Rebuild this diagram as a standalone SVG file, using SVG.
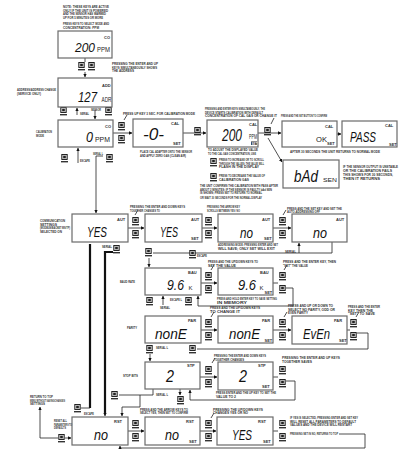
<svg xmlns="http://www.w3.org/2000/svg" xmlns:xlink="http://www.w3.org/1999/xlink" width="419" height="461" viewBox="0 0 419 461">
<style>
.lcd{fill:#fff;stroke:#6a6a6a;stroke-width:1.2}
.big{font-family:"Liberation Sans","DejaVu Sans",sans-serif;font-style:italic;fill:#111}
.u{font-style:normal;fill:#222}
.unit{font-family:"Liberation Sans",sans-serif;font-size:6.5px;fill:#222}
.tag{font-family:"Liberation Sans",sans-serif;font-size:4px;font-weight:bold;fill:#333}
.n{font-family:"Liberation Sans",sans-serif;font-size:3px;font-weight:bold;fill:#333}
.c{fill:none;stroke:#222;stroke-width:0.8}
.t{fill:none;stroke:#111;stroke-width:2.2}
</style>
<defs>
<marker id="ah" viewBox="0 0 6 6" refX="5.5" refY="3" markerWidth="3.5" markerHeight="3.5" markerUnits="userSpaceOnUse" orient="auto"><path d="M0,0L6,3L0,6z" fill="#111"/></marker>
<symbol id="key" viewBox="0 0 7 9" width="7" height="9">
<rect x="0.8" y="0.5" width="5.4" height="5" fill="#d4d4d4" stroke="#111" stroke-width="0.9"/>
<rect x="2.2" y="1.8" width="2.6" height="2.4" fill="#222"/>
<rect x="0" y="7" width="7" height="1.4" fill="#333"/>
</symbol>
</defs>
<rect width="419" height="461" fill="#fff"/>

<g id="connectors">
<path class="c" d="M85,58V62"/>
<path class="c" d="M85,72V77" marker-end="url(#ah)"/>
<path class="c" d="M77,115V108" marker-end="url(#ah)"/>
<path class="c" d="M95,110V119" marker-end="url(#ah)"/>
<path class="c" d="M113,133H132" marker-end="url(#ah)"/>
<path class="c" d="M124,120L127,115"/>
<path class="c" d="M78,163V148" marker-end="url(#ah)"/>
<path class="c" d="M103,156H96V213" marker-end="url(#ah)"/>
<path class="c" d="M183,133H206" marker-end="url(#ah)"/>
<path class="c" d="M258,133H281" marker-end="url(#ah)"/>
<path class="c" d="M268,138L282,162" marker-end="url(#ah)"/>
<path class="c" d="M271,124L274,118"/>
<path class="c" d="M337,134H341" marker-end="url(#ah)"/>
<path class="c" d="M128,228H144" marker-end="url(#ah)"/>
<path class="c" d="M135,215L138,210"/>
<path class="c" d="M202,228H217" marker-end="url(#ah)"/>
<path class="c" d="M273,228H291" marker-end="url(#ah)"/>
<path class="c" d="M283,215L286,210"/>
<path class="t" d="M90,408V244"/>
<path class="c" d="M81,408H90"/>
<path class="t" d="M113,252H105V413"/>
<path class="c" d="M105,412V416" marker-end="url(#ah)"/>
<path class="c" d="M332,242V253H153"/>
<path class="c" d="M149,258V267" marker-end="url(#ah)"/>
<path class="c" d="M299,253V243" marker-end="url(#ah)"/>
<path class="c" d="M201,283H217" marker-end="url(#ah)"/>
<path class="c" d="M211,270L214,265"/>
<path class="c" d="M273,283H278"/>
<path class="c" d="M286,288H293V306H198V296" marker-end="url(#ah)"/>
<path class="c" d="M284,270L287,265"/>
<path class="c" d="M163,305V296" marker-end="url(#ah)"/>
<path class="c" d="M201,330H217" marker-end="url(#ah)"/>
<path class="c" d="M211,317L214,312"/>
<path class="c" d="M273,330H291" marker-end="url(#ah)"/>
<path class="c" d="M284,317L287,312"/>
<path class="c" d="M347,330H350"/>
<path class="c" d="M357,333H368V349H197"/>
<path class="c" d="M356,317L359,312"/>
<path class="c" d="M150,354V361" marker-end="url(#ah)"/>
<path class="c" d="M200,377H217" marker-end="url(#ah)"/>
<path class="c" d="M212,363L215,358"/>
<path class="c" d="M273,377H278"/>
<path class="c" d="M286,381H295V400H190V390" marker-end="url(#ah)"/>
<path class="c" d="M180,389V395" marker-end="url(#ah)"/>
<path class="c" d="M153,389V395H140V407H122V416" marker-end="url(#ah)"/>
<path class="c" d="M119,395H140"/>
<path class="c" d="M65,438H71" marker-end="url(#ah)"/>
<path class="c" d="M58,438H40V407" marker-end="url(#ah)"/>
<path class="c" d="M128,431H144" marker-end="url(#ah)"/>
<path class="c" d="M200,431H216" marker-end="url(#ah)"/>
<path class="c" d="M211,418L214,413"/>
<path class="c" d="M273,431H278"/>
<path class="c" d="M339,434H365V448H120V446" marker-end="url(#ah)"/>
<path class="c" d="M219,124l2,2M217,133h2M219,142l2,-2M246,124l-2,2"/>
</g>

<g id="keys">
<use href="#key" x="78" y="62"/><use href="#key" x="88" y="62"/>
<use href="#key" x="60" y="107"/><use href="#key" x="105" y="107"/>
<use href="#key" x="118" y="122"/><use href="#key" x="118" y="135"/>
<use href="#key" x="61" y="154"/><use href="#key" x="106" y="154"/>
<use href="#key" x="194" y="127"/>
<use href="#key" x="264" y="127"/>
<use href="#key" x="210" y="158"/><use href="#key" x="210" y="173"/>
<use href="#key" x="132" y="217"/><use href="#key" x="132" y="230"/>
<use href="#key" x="205" y="217"/><use href="#key" x="205" y="230"/>
<use href="#key" x="279" y="217"/><use href="#key" x="279" y="230"/>
<use href="#key" x="113" y="245"/>
<use href="#key" x="74" y="404"/>
<use href="#key" x="145" y="248"/><use href="#key" x="189" y="250"/>
<use href="#key" x="205" y="272"/><use href="#key" x="205" y="285"/>
<use href="#key" x="279" y="272"/><use href="#key" x="279" y="285"/>
<use href="#key" x="146" y="297"/><use href="#key" x="185" y="297"/>
<use href="#key" x="205" y="319"/><use href="#key" x="205" y="332"/>
<use href="#key" x="279" y="319"/><use href="#key" x="279" y="332"/>
<use href="#key" x="350" y="319"/><use href="#key" x="350" y="332"/>
<use href="#key" x="146" y="345"/><use href="#key" x="189" y="345"/>
<use href="#key" x="205" y="366"/><use href="#key" x="205" y="379"/>
<use href="#key" x="279" y="366"/><use href="#key" x="279" y="379"/>
<use href="#key" x="177" y="396"/><use href="#key" x="111" y="391"/>
<use href="#key" x="58" y="434"/>
<use href="#key" x="132" y="420"/><use href="#key" x="132" y="433"/>
<use href="#key" x="205" y="420"/><use href="#key" x="205" y="433"/>
<use href="#key" x="279" y="420"/><use href="#key" x="279" y="433"/>
</g>

<g id="n-co200"><rect class="lcd" x="58" y="31" width="54" height="27"/><text class="big" x="75" y="52" font-size="13"><tspan textLength="20" lengthAdjust="spacingAndGlyphs">200</tspan><tspan class="u" x="97" font-size="6.5" textLength="13" lengthAdjust="spacingAndGlyphs">PPM</tspan></text><text class="tag" x="104" y="39">CO</text></g>
<g id="n-adr"><rect class="lcd" x="58" y="78" width="54" height="29"/><text class="big" x="78" y="102" font-size="14"><tspan textLength="19" lengthAdjust="spacingAndGlyphs">127</tspan><tspan class="u" x="101.5" font-size="6.5" textLength="10" lengthAdjust="spacingAndGlyphs">ADR</tspan></text><text class="tag" x="102" y="86.5">ADD</text></g>
<g id="n-co0"><rect class="lcd" x="58" y="120" width="55" height="27"/><text class="big" x="86" y="142" font-size="14"><tspan textLength="7" lengthAdjust="spacingAndGlyphs">0</tspan><tspan class="u" x="95" font-size="6.5" textLength="15" lengthAdjust="spacingAndGlyphs">PPM</tspan></text><text class="tag" x="105" y="128">CO</text></g>
<g id="n-cal0"><rect class="lcd" x="133" y="119" width="50" height="28"/><text class="big" x="143" y="140" font-size="16" textLength="21" lengthAdjust="spacingAndGlyphs">-0-</text><text class="tag" x="171" y="124.5">CAL</text><text class="tag" x="173" y="145">SET</text></g>
<g id="n-cal200"><rect class="lcd" x="207" y="120" width="51" height="27"/><text class="big" x="222" y="141" font-size="16" textLength="20" lengthAdjust="spacingAndGlyphs">200</text><text class="unit" x="249" y="139" font-size="5" textLength="8" lengthAdjust="spacingAndGlyphs">PPM</text><text class="tag" x="249" y="125.5">CAL</text><rect x="251" y="141.5" width="6" height="3.5" fill="#222"/><text x="251.5" y="144.5" font-family="Liberation Sans,sans-serif" font-size="3" font-weight="bold" fill="#fff">SET</text></g>
<g id="n-ok"><rect class="lcd" x="282" y="121" width="55" height="26"/><text x="316" y="142" font-family="Liberation Sans,sans-serif" font-size="7" fill="#222" textLength="11" lengthAdjust="spacingAndGlyphs">OK</text><text class="tag" x="325" y="128">CAL</text><text class="tag" x="327" y="145">SET</text></g>
<g id="n-pass"><rect class="lcd" x="342" y="121" width="55" height="26"/><text class="big" x="350" y="142" font-size="14.5" textLength="26" lengthAdjust="spacingAndGlyphs">PASS</text><text class="tag" x="385" y="126.5">CAL</text><text class="tag" x="389" y="145.5">SET</text></g>
<g id="n-bad"><rect class="lcd" x="283" y="160" width="56" height="28"/><text class="big" x="294" y="182" font-size="16"><tspan textLength="24" lengthAdjust="spacingAndGlyphs">bAd</tspan><tspan class="u" x="323" font-size="6" textLength="14" lengthAdjust="spacingAndGlyphs">SEN</tspan></text></g>
<g id="n-aut1"><rect class="lcd" x="72" y="214" width="56" height="28"/><text class="big" x="87" y="237" font-size="15" textLength="20" lengthAdjust="spacingAndGlyphs">YES</text><text class="tag" x="117" y="221">AUT</text></g>
<g id="n-aut2"><rect class="lcd" x="145" y="214" width="57" height="28"/><text class="big" x="160" y="237" font-size="15" textLength="18" lengthAdjust="spacingAndGlyphs">YES</text><text class="tag" x="191" y="221">AUT</text><text class="tag" x="191" y="240">SET</text></g>
<g id="n-aut3"><rect class="lcd" x="218" y="214" width="55" height="28"/><text class="big" x="240" y="238" font-size="14" textLength="13" lengthAdjust="spacingAndGlyphs">no</text><text class="tag" x="262" y="221">AUT</text><text class="tag" x="264" y="240">SET</text></g>
<g id="n-aut4"><rect class="lcd" x="292" y="214" width="55" height="28"/><text class="big" x="313" y="238" font-size="14" textLength="14" lengthAdjust="spacingAndGlyphs">no</text><text class="tag" x="336" y="221">AUT</text></g>
<g id="n-bau1"><rect class="lcd" x="145" y="268" width="56" height="27"/><text class="big" x="167" y="290" font-size="15"><tspan textLength="17" lengthAdjust="spacingAndGlyphs">9.6</tspan><tspan class="u" x="188.5" font-size="6">K</tspan></text><text class="tag" x="188" y="273.5">BAU</text></g>
<g id="n-bau2"><rect class="lcd" x="218" y="268" width="55" height="27"/><text class="big" x="238" y="290" font-size="15"><tspan textLength="18" lengthAdjust="spacingAndGlyphs">9.6</tspan><tspan class="u" x="259.5" font-size="6">K</tspan></text><text class="tag" x="260" y="273.5">BAU</text><text class="tag" x="264.5" y="293.5">SET</text></g>
<g id="n-par1"><rect class="lcd" x="145" y="316" width="56" height="27"/><text class="big" x="155" y="339" font-size="15" textLength="32" lengthAdjust="spacingAndGlyphs">nonE</text><text class="tag" x="188" y="322">PAR</text></g>
<g id="n-par2"><rect class="lcd" x="218" y="316" width="55" height="27"/><text class="big" x="229" y="339" font-size="15" textLength="31" lengthAdjust="spacingAndGlyphs">nonE</text><text class="tag" x="262" y="322">PAR</text><text class="tag" x="264.5" y="341.5">SET</text></g>
<g id="n-par3"><rect class="lcd" x="292" y="316" width="55" height="28"/><text class="big" x="303" y="339" font-size="15" textLength="27" lengthAdjust="spacingAndGlyphs">EvEn</text><text class="tag" x="334" y="322">PAR</text><text class="tag" x="339" y="342">SET</text></g>
<g id="n-stp1"><rect class="lcd" x="145" y="362" width="55" height="27"/><text class="big" x="166" y="382" font-size="16" textLength="8" lengthAdjust="spacingAndGlyphs">2</text><text class="tag" x="187" y="366.5">STP</text></g>
<g id="n-stp2"><rect class="lcd" x="218" y="362" width="55" height="28"/><text class="big" x="239" y="382" font-size="16" textLength="8" lengthAdjust="spacingAndGlyphs">2</text><text class="tag" x="258" y="366.5">STP</text><text class="tag" x="262" y="387.5">SET</text></g>
<g id="n-rst1"><rect class="lcd" x="72" y="417" width="56" height="28"/><text class="big" x="94" y="440" font-size="14" textLength="14" lengthAdjust="spacingAndGlyphs">no</text><text class="tag" x="114" y="423">RST</text></g>
<g id="n-rst2"><rect class="lcd" x="145" y="417" width="55" height="28"/><text class="big" x="165" y="440" font-size="14" textLength="14" lengthAdjust="spacingAndGlyphs">no</text><text class="tag" x="186" y="423">RST</text><text class="tag" x="189" y="442.5">SET</text></g>
<g id="n-rst3"><rect class="lcd" x="217" y="417" width="56" height="28"/><text class="big" x="232" y="440" font-size="15" textLength="20" lengthAdjust="spacingAndGlyphs">YES</text><text class="tag" x="258" y="423">RST</text><text class="tag" x="263" y="442.5">SET</text></g>

<g id="notes">
<text class="n" x="63" y="8" textLength="46" lengthAdjust="spacingAndGlyphs">NOTE: THESE KEYS ARE ACTIVE</text>
<text class="n" x="63" y="11.5" textLength="45" lengthAdjust="spacingAndGlyphs">ONLY IF THE UNIT IS POWERED</text>
<text class="n" x="63" y="15" textLength="43" lengthAdjust="spacingAndGlyphs">AND THE SENSOR HAS WARMED</text>
<text class="n" x="63" y="18.5" textLength="40" lengthAdjust="spacingAndGlyphs">UP FOR 5 MINUTES OR MORE</text>
<text class="n" x="63" y="25" textLength="46" lengthAdjust="spacingAndGlyphs">PRESS KEYS TO SELECT MODE AND</text>
<text class="n" x="63" y="28.5" textLength="36" lengthAdjust="spacingAndGlyphs">CONCENTRATION: PPM</text>
<text class="n" x="112" y="65" textLength="46" lengthAdjust="spacingAndGlyphs">PRESSING THE ENTER AND UP</text>
<text class="n" x="112" y="68.5" textLength="45" lengthAdjust="spacingAndGlyphs">KEYS SIMULTANEOUSLY SHOWS</text>
<text class="n" x="112" y="72" textLength="22" lengthAdjust="spacingAndGlyphs">THE ADDRESS</text>
<text class="n" x="17" y="91" textLength="39" lengthAdjust="spacingAndGlyphs">ADDRESS/ADDRESS CHANGE</text>
<text class="n" x="17" y="95" textLength="24" lengthAdjust="spacingAndGlyphs">(SERVICE ONLY)</text>
<text class="n" x="91" y="111" textLength="10" lengthAdjust="spacingAndGlyphs">SENSOR</text>
<text class="n" x="80" y="115" textLength="9" lengthAdjust="spacingAndGlyphs">SERIAL</text>
<text class="n" x="123" y="114.5" textLength="72" lengthAdjust="spacingAndGlyphs">PRESS UP KEY 3 SEC. FOR CALIBRATION MODE</text>
<text class="n" x="205" y="110" textLength="60" lengthAdjust="spacingAndGlyphs">PRESSING AND ENTER KEYS SIMULTANEOUSLY, THE</text>
<text class="n" x="205" y="113.5" textLength="58" lengthAdjust="spacingAndGlyphs">DEVICE STARTS CALIBRATION WITH DEFAULT</text>
<text class="n" x="205" y="117" textLength="72" lengthAdjust="spacingAndGlyphs">CONCENTRATION OF CAL GAS OR CHANGE IT</text>
<text class="n" x="281" y="117" textLength="46" lengthAdjust="spacingAndGlyphs">PRESS AND THE SET BUTTON TO CONFIRM</text>
<text class="n" x="36" y="133" textLength="16" lengthAdjust="spacingAndGlyphs">CALIBRATION</text>
<text class="n" x="36" y="136.5" textLength="8" lengthAdjust="spacingAndGlyphs">MODE</text>
<text class="n" x="80" y="162" textLength="10" lengthAdjust="spacingAndGlyphs">ESCAPE</text>
<text class="n" x="93" y="155" textLength="10" lengthAdjust="spacingAndGlyphs">SERIAL L</text>
<text class="n" x="140" y="153" textLength="52" lengthAdjust="spacingAndGlyphs">PLACE CAL ADAPTER ONTO THE SENSOR</text>
<text class="n" x="140" y="156.5" textLength="46" lengthAdjust="spacingAndGlyphs">AND APPLY ZERO GAS (CLEAN AIR)</text>
<text class="n" x="208" y="151" textLength="50" lengthAdjust="spacingAndGlyphs">TO ADJUST THE DISPLAYED VALUE</text>
<text class="n" x="208" y="154.5" textLength="48" lengthAdjust="spacingAndGlyphs">TO THE CAL GAS CONCENTRATION, USE</text>
<text class="n" x="219" y="161" textLength="45" lengthAdjust="spacingAndGlyphs">PRESS TO INCREASE OR TO SCROLL</text>
<text class="n" x="219" y="164.5" textLength="45" lengthAdjust="spacingAndGlyphs">THROUGH THE VALUES; THE VALUE WILL</text>
<text class="n" x="219" y="168" textLength="40" lengthAdjust="spacingAndGlyphs">FLASH IN THE DISPLAY</text>
<text class="n" x="219" y="177" textLength="46" lengthAdjust="spacingAndGlyphs">PRESS TO DECREASE THE VALUE OF</text>
<text class="n" x="219" y="180.5" textLength="30" lengthAdjust="spacingAndGlyphs">CALIBRATION GAS</text>
<text class="n" x="200" y="187" textLength="78" lengthAdjust="spacingAndGlyphs">THE UNIT CONFIRMS THE CALIBRATION WITH PASS AFTER</text>
<text class="n" x="200" y="190.5" textLength="72" lengthAdjust="spacingAndGlyphs">ABOUT 2 MINUTES; IF THE SENSOR IS FAULTY bAd SEN</text>
<text class="n" x="200" y="194" textLength="62" lengthAdjust="spacingAndGlyphs">IS SHOWN; PRESS SET TO RETURN TO NORMAL</text>
<text class="n" x="200" y="199" textLength="62" lengthAdjust="spacingAndGlyphs">OR WAIT 30 SECONDS FOR THE NORMAL DISPLAY</text>
<text class="n" x="290" y="152.5" textLength="90" lengthAdjust="spacingAndGlyphs">AFTER 30 SECONDS THE UNIT RETURNS TO NORMAL MODE</text>
<text class="n" x="343" y="168" textLength="55" lengthAdjust="spacingAndGlyphs">IF THE SENSOR OUTPUT IS UNSTABLE</text>
<text class="n" x="343" y="172" textLength="49" lengthAdjust="spacingAndGlyphs">OR THE CALIBRATION FAILS</text>
<text class="n" x="343" y="176" textLength="50" lengthAdjust="spacingAndGlyphs">THIS SHOWS FOR 30 SECONDS,</text>
<text class="n" x="343" y="180" textLength="37" lengthAdjust="spacingAndGlyphs">THEN IT RETURNS</text>
<text class="n" x="40" y="222" textLength="25" lengthAdjust="spacingAndGlyphs">COMMUNICATION</text>
<text class="n" x="40" y="225.5" textLength="17" lengthAdjust="spacingAndGlyphs">SETTINGS</text>
<text class="n" x="40" y="229" textLength="30" lengthAdjust="spacingAndGlyphs">(MODBUS/BACNET MS/TP)</text>
<text class="n" x="40" y="232.5" textLength="22" lengthAdjust="spacingAndGlyphs">SELECTED ON</text>
<text class="n" x="130" y="208" textLength="55" lengthAdjust="spacingAndGlyphs">PRESSING THE ENTER AND DOWN KEYS</text>
<text class="n" x="130" y="211.5" textLength="30" lengthAdjust="spacingAndGlyphs">TOGETHER CHANGES TO</text>
<text class="n" x="207" y="208" textLength="33" lengthAdjust="spacingAndGlyphs">PRESSING THE ARROW KEY</text>
<text class="n" x="207" y="211.5" textLength="33" lengthAdjust="spacingAndGlyphs">SCROLLS BETWEEN YES / NO</text>
<text class="n" x="287" y="209.5" textLength="55" lengthAdjust="spacingAndGlyphs">PRESS AND THE SET KEY AND SET THE</text>
<text class="n" x="287" y="213" textLength="33" lengthAdjust="spacingAndGlyphs">AUTO-ADDRESSING OFF</text>
<text class="n" x="218" y="246" textLength="60" lengthAdjust="spacingAndGlyphs">ADDRESSING MODE: PRESSING ENTER AND SET</text>
<text class="n" x="218" y="249.5" textLength="57" lengthAdjust="spacingAndGlyphs">WILL SAVE; ONLY SET WILL EXIT</text>
<text class="n" x="102" y="247.5" textLength="10" lengthAdjust="spacingAndGlyphs">SERIAL</text>
<text class="n" x="84" y="415" textLength="10" lengthAdjust="spacingAndGlyphs">ESCAPE</text>
<text class="n" x="197" y="257" textLength="10" lengthAdjust="spacingAndGlyphs">ESCAPE</text>
<text class="n" x="285" y="253" textLength="11" lengthAdjust="spacingAndGlyphs">SERIAL</text>
<text class="n" x="120" y="283" textLength="15" lengthAdjust="spacingAndGlyphs">BAUD RATE</text>
<text class="n" x="208" y="263" textLength="50" lengthAdjust="spacingAndGlyphs">PRESS AND THE UP/DOWN KEYS TO</text>
<text class="n" x="208" y="266.5" textLength="28" lengthAdjust="spacingAndGlyphs">SET THE VALUE</text>
<text class="n" x="283" y="263" textLength="53" lengthAdjust="spacingAndGlyphs">PRESS AND THE ENTER KEY, THEN</text>
<text class="n" x="283" y="266.5" textLength="25" lengthAdjust="spacingAndGlyphs">&quot;SET&quot; THE VALUE</text>
<text class="n" x="217" y="300" textLength="60" lengthAdjust="spacingAndGlyphs">PRESS AND HOLD ENTER KEY TO SAVE SETTING</text>
<text class="n" x="217" y="303.5" textLength="30" lengthAdjust="spacingAndGlyphs">IN MEMORY</text>
<text class="n" x="160" y="309" textLength="10" lengthAdjust="spacingAndGlyphs">SERIAL</text>
<text class="n" x="170" y="301" textLength="12" lengthAdjust="spacingAndGlyphs">ESCAPE L</text>
<text class="n" x="127" y="329" textLength="10" lengthAdjust="spacingAndGlyphs">PARITY</text>
<text class="n" x="210" y="309" textLength="50" lengthAdjust="spacingAndGlyphs">PRESS AND THE UP/DOWN KEYS</text>
<text class="n" x="210" y="312.5" textLength="30" lengthAdjust="spacingAndGlyphs">TO CHANGE IT</text>
<text class="n" x="288" y="307" textLength="45" lengthAdjust="spacingAndGlyphs">PRESS AND UP OR DOWN TO</text>
<text class="n" x="288" y="310.5" textLength="47" lengthAdjust="spacingAndGlyphs">SELECT NO PARITY, ODD OR</text>
<text class="n" x="288" y="314" textLength="20" lengthAdjust="spacingAndGlyphs">EVEN PARITY</text>
<text class="n" x="348" y="308" textLength="32" lengthAdjust="spacingAndGlyphs">PRESS AND THE ENTER</text>
<text class="n" x="348" y="311.5" textLength="25" lengthAdjust="spacingAndGlyphs">KEY THEN THE</text>
<text class="n" x="348" y="315" textLength="27" lengthAdjust="spacingAndGlyphs">&quot;SET&quot; TO SAVE</text>
<text class="n" x="156" y="349" textLength="12" lengthAdjust="spacingAndGlyphs">SERIAL L</text>
<text class="n" x="123" y="377" textLength="15" lengthAdjust="spacingAndGlyphs">STOP BITS</text>
<text class="n" x="214" y="357" textLength="52" lengthAdjust="spacingAndGlyphs">PRESSING THE ENTER AND DOWN KEYS</text>
<text class="n" x="214" y="360.5" textLength="30" lengthAdjust="spacingAndGlyphs">TOGETHER CHANGES</text>
<text class="n" x="216" y="394" textLength="60" lengthAdjust="spacingAndGlyphs">PRESS ENTER AND THE UP KEY TO SET THE</text>
<text class="n" x="216" y="397.5" textLength="20" lengthAdjust="spacingAndGlyphs">VALUE TO 2</text>
<text class="n" x="282" y="359" textLength="58" lengthAdjust="spacingAndGlyphs">PRESSING THE ENTER AND UP KEYS</text>
<text class="n" x="282" y="362.5" textLength="30" lengthAdjust="spacingAndGlyphs">TOGETHER SAVES</text>
<text class="n" x="156" y="396" textLength="12" lengthAdjust="spacingAndGlyphs">SERIAL L</text>
<text class="n" x="30" y="398" textLength="23" lengthAdjust="spacingAndGlyphs">RETURN TO TOP</text>
<text class="n" x="30" y="401.5" textLength="35" lengthAdjust="spacingAndGlyphs">MENU WITHOUT SAVING/CHANGES</text>
<text class="n" x="30" y="405" textLength="15" lengthAdjust="spacingAndGlyphs">SETTINGS</text>
<text class="n" x="54" y="422" textLength="13" lengthAdjust="spacingAndGlyphs">RESET ALL</text>
<text class="n" x="54" y="425.5" textLength="18" lengthAdjust="spacingAndGlyphs">PARAMETERS TO</text>
<text class="n" x="54" y="429" textLength="12" lengthAdjust="spacingAndGlyphs">DEFAULTS</text>
<text class="n" x="140" y="410.5" textLength="48" lengthAdjust="spacingAndGlyphs">PRESS AND THE ARROW KEYS TO</text>
<text class="n" x="140" y="414" textLength="48" lengthAdjust="spacingAndGlyphs">SELECT YES, THEN SET TO CONFIRM</text>
<text class="n" x="213" y="410.5" textLength="50" lengthAdjust="spacingAndGlyphs">PRESSING THE UP/DOWN KEYS</text>
<text class="n" x="213" y="414" textLength="35" lengthAdjust="spacingAndGlyphs">CHANGES YES OR NO</text>
<text class="n" x="290" y="419" textLength="68" lengthAdjust="spacingAndGlyphs">IF YES IS SELECTED, PRESSING ENTER AND SET KEY</text>
<text class="n" x="290" y="422.5" textLength="66" lengthAdjust="spacingAndGlyphs">WILL RESET ALL PARAMETERS TO DEFAULT</text>
<text class="n" x="290" y="426" textLength="62" lengthAdjust="spacingAndGlyphs">VALUES AND THE DEVICE WILL RESTART</text>
<text class="n" x="290" y="434.5" textLength="48" lengthAdjust="spacingAndGlyphs">PRESSING SET IN NO, RETURNS TO TOP</text>
</g>
</svg>
